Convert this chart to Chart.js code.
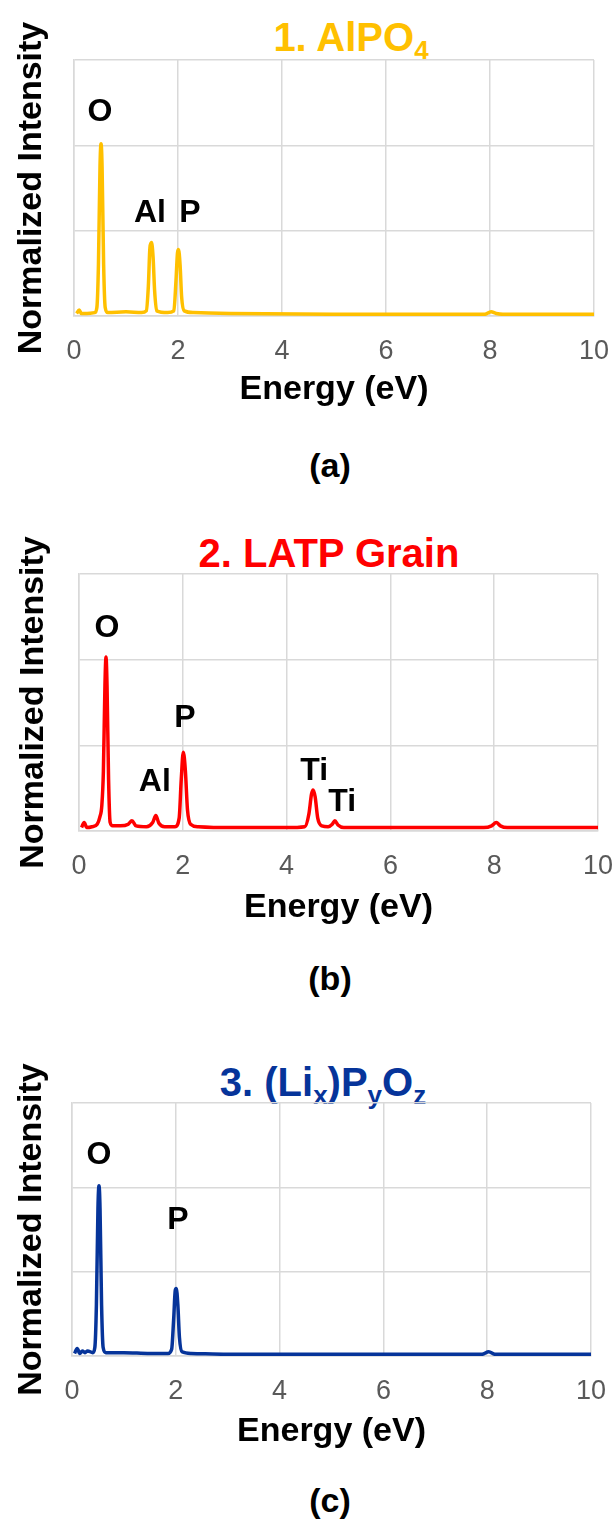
<!DOCTYPE html>
<html>
<head>
<meta charset="utf-8">
<script src="https://cdn.jsdelivr.net/npm/chart.js@4.4.1/dist/chart.umd.min.js"></script>
<style>
  body { margin: 0; background: #fff; }
  #wrap { position: relative; width: 615px; height: 1520px; font-family: "Liberation Sans", Arial, sans-serif; }
  canvas { position: absolute; left: 0; }
  .ttl, .cap { position: absolute; transform: translate(-50%, -50%); font-weight: bold; white-space: nowrap; line-height: 1; }
  .ttl { font-size: 40px; }
  .ttl sub { font-size: 0.65em; vertical-align: -0.3em; }
  .cap { font-size: 34px; color: #000; }
</style>
</head>
<body>
<div id="wrap">
  <div class="ttl" style="left:351px;top:40px;color:#FFC000">1. AlPO<sub>4</sub></div>
  <canvas id="chart-a" width="615" height="420" style="top:0px"></canvas>
  <div class="cap" style="left:330px;top:465px">(a)</div>

  <div class="ttl" style="left:329px;top:553px;color:#FF0000">2. LATP Grain</div>
  <canvas id="chart-b" width="615" height="438" style="top:500px"></canvas>
  <div class="cap" style="left:330px;top:978px">(b)</div>

  <div class="ttl" style="left:323px;top:1085px;color:#06349A">3. (Li<sub>x</sub>)P<sub>y</sub>O<sub>z</sub></div>
  <canvas id="chart-c" width="615" height="432" style="top:1030px"></canvas>
  <div class="cap" style="left:330px;top:1500px">(c)</div>
</div>
<script>
const X_TICKS = [0, 2, 4, 6, 8, 10];

// 1. AlPO4
const energyA = [0.05, 0.1, 0.14, 0.25, 0.4, 0.44, 0.47, 0.5, 0.52, 0.54, 0.57, 0.6, 0.65, 1.0, 1.3, 1.39, 1.43, 1.46, 1.49, 1.52, 1.55, 1.59, 1.8, 1.92, 1.96, 1.99, 2.01, 2.04, 2.07, 2.12, 2.3, 3, 5, 7.9, 8.02, 8.12, 8.25, 9, 10];
const intensityA = [0.03, 0.07, 0.03, 0.03, 0.04, 0.1, 0.6, 1.75, 2.02, 1.75, 0.6, 0.1, 0.04, 0.05, 0.04, 0.06, 0.35, 0.8, 0.86, 0.7, 0.3, 0.06, 0.04, 0.06, 0.4, 0.74, 0.78, 0.6, 0.22, 0.06, 0.04, 0.03, 0.02, 0.02, 0.05, 0.03, 0.02, 0.02, 0.02];
const peakNamesA = ["O", "Al", "P"];
const peakEnergyA = [0.5, 1.46, 2.23];
const peakHeightA = [2.39, 1.21, 1.21];

// 2. LATP Grain
const energyB = [0.05, 0.1, 0.15, 0.25, 0.35, 0.4, 0.44, 0.47, 0.5, 0.52, 0.54, 0.57, 0.6, 0.65, 0.8, 0.95, 1.02, 1.1, 1.3, 1.42, 1.48, 1.54, 1.65, 1.85, 1.93, 1.97, 2.01, 2.05, 2.09, 2.15, 2.3, 3, 4, 4.35, 4.43, 4.48, 4.51, 4.55, 4.6, 4.68, 4.8, 4.88, 4.93, 4.99, 5.1, 6, 7.8, 7.95, 8.04, 8.12, 8.25, 9, 10];
const intensityB = [0.04, 0.1, 0.04, 0.05, 0.08, 0.16, 0.3, 0.7, 1.7, 2.03, 1.7, 0.6, 0.1, 0.06, 0.06, 0.08, 0.12, 0.06, 0.05, 0.1, 0.18, 0.09, 0.05, 0.05, 0.15, 0.6, 0.92, 0.7, 0.25, 0.08, 0.05, 0.04, 0.04, 0.05, 0.2, 0.43, 0.48, 0.4, 0.15, 0.06, 0.05, 0.08, 0.12, 0.07, 0.04, 0.04, 0.04, 0.06, 0.1, 0.06, 0.04, 0.04, 0.04];
const peakNamesB = ["O", "Al", "P", "Ti", "Ti"];
const peakEnergyB = [0.54, 1.46, 2.04, 4.53, 5.07];
const peakHeightB = [2.37, 0.57, 1.32, 0.7, 0.34];

// 3. (Lix)PyOz
const energyC = [0.05, 0.1, 0.15, 0.2, 0.25, 0.3, 0.4, 0.44, 0.47, 0.5, 0.52, 0.54, 0.57, 0.6, 0.65, 1.0, 1.5, 1.85, 1.92, 1.96, 1.99, 2.01, 2.04, 2.07, 2.12, 2.3, 3, 5, 7.9, 8.03, 8.15, 9, 10];
const intensityC = [0.03, 0.09, 0.03, 0.06, 0.04, 0.06, 0.04, 0.1, 0.6, 1.75, 2.02, 1.75, 0.6, 0.1, 0.04, 0.04, 0.03, 0.03, 0.08, 0.45, 0.78, 0.8, 0.6, 0.22, 0.05, 0.03, 0.02, 0.02, 0.02, 0.05, 0.02, 0.02, 0.02];
const peakNamesC = ["O", "P"];
const peakEnergyC = [0.52, 2.04];
const peakHeightC = [2.38, 1.61];

const FONT = "'Liberation Sans', Arial, sans-serif";
const GRID_COLOR = "#D9D9D9";

const peakLabelPlugin = {
  id: "peakLabels",
  afterDatasetsDraw(chart, args, opts) {
    const { ctx, scales } = chart;
    ctx.save();
    ctx.font = `bold 32px ${FONT}`;
    ctx.fillStyle = "#000";
    ctx.textAlign = "center";
    ctx.textBaseline = "middle";
    opts.names.forEach((name, i) => {
      ctx.fillText(name, scales.x.getPixelForValue(opts.energies[i]), scales.y.getPixelForValue(opts.heights[i]));
    });
    ctx.restore();
  },
};

function makePanel(canvasId, energies, intensities, color, names, peakEnergies, peakHeights, box) {
  const ctx = document.getElementById(canvasId).getContext("2d");
  return new Chart(ctx, {
    type: "line",
    data: {
      datasets: [
        {
          data: energies.map((e, i) => ({ x: e, y: intensities[i] })),
          borderColor: color,
          borderWidth: 3.5,
          pointRadius: 0,
          cubicInterpolationMode: "monotone",
          fill: false,
        },
      ],
    },
    options: {
      responsive: false,
      animation: false,
      layout: { padding: { left: 0, right: box.right, top: box.top, bottom: 0 } },
      plugins: {
        legend: { display: false },
        tooltip: { enabled: false },
        peakLabels: { names, energies: peakEnergies, heights: peakHeights },
      },
      scales: {
        x: {
          type: "linear",
          min: 0,
          max: 10,
          afterBuildTicks: (s) => { s.ticks = X_TICKS.map((v) => ({ value: v })); },
          afterFit: (s) => { s.height = box.xHeight; },
          // small padding + tall line height keeps the labels low without widening the right margin
          ticks: { color: "#595959", padding: 2, font: { family: FONT, size: 27, lineHeight: 2.5 } },
          grid: { color: GRID_COLOR, lineWidth: 1.5, drawTicks: false },
          border: { color: GRID_COLOR, width: 1.5 },
          title: {
            display: true,
            text: "Energy (eV)",
            color: "#000",
            font: { family: FONT, size: 34, weight: "bold" },
            padding: { top: 0, bottom: 10 },
          },
        },
        y: {
          min: 0,
          max: 3,
          afterFit: (s) => { s.width = box.left; },
          ticks: { display: false, stepSize: 1 },
          grid: { color: GRID_COLOR, lineWidth: 1.5, drawTicks: false },
          border: { color: GRID_COLOR, width: 1.5 },
          title: {
            display: true,
            text: "Normalized Intensity",
            color: "#000",
            font: { family: FONT, size: 34, weight: "bold" },
            padding: { top: box.yTitlePad, bottom: 0 },
          },
        },
      },
    },
    plugins: [peakLabelPlugin],
  });
}

makePanel("chart-a", energyA, intensityA, "#FFC000", peakNamesA, peakEnergyA, peakHeightA,
  { left: 74, right: 21, top: 60, xHeight: 104, yTitlePad: 11 });
makePanel("chart-b", energyB, intensityB, "#FF0000", peakNamesB, peakEnergyB, peakHeightB,
  { left: 79, right: 17, top: 74, xHeight: 107, yTitlePad: 13 });
makePanel("chart-c", energyC, intensityC, "#06349A", peakNamesC, peakEnergyC, peakHeightC,
  { left: 72, right: 24, top: 73, xHeight: 106, yTitlePad: 11 });
</script>
</body>
</html>
